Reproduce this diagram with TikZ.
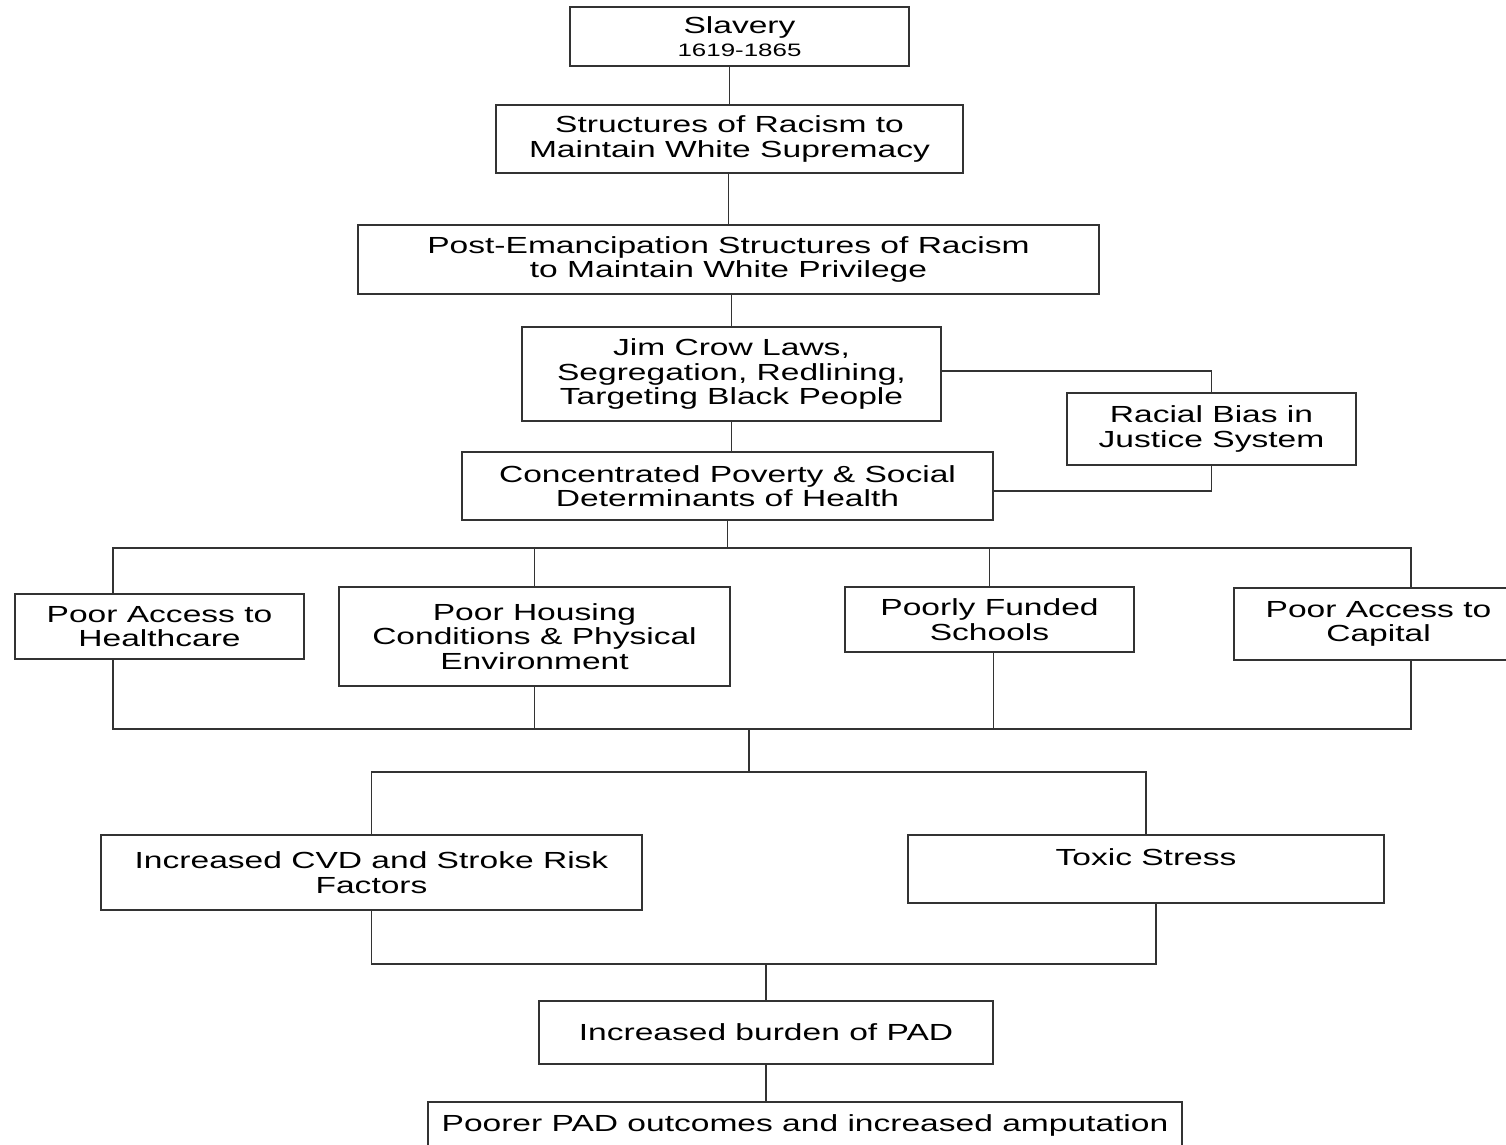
\documentclass[tikz,border=0pt]{standalone}
\usepackage{fontspec}
\newfontfamily\boxfont[FakeStretch=1.44]{Liberation Sans}
\usepackage{tikz}
\usetikzlibrary{calc}
\usetikzlibrary{positioning}

\tikzset{
	box/.style={draw=black!80,line width=1.8pt,rectangle,align=center,inner sep=0pt,outer sep=0pt,
		font=\boxfont\fontsize{23.3pt}{24.5pt}\selectfont},
	link/.style={draw=black!80,line width=1.8pt},
}

\begin{document}
\begin{tikzpicture}[x=1pt,y=-1pt]
		\fill [white] (0,0) rectangle (1506,1144);
		\useasboundingbox (0,0) rectangle (1506,1144);

		\node [box,minimum width=339pt,minimum height=59pt] (slavery) at (739.5,36.5) {Slavery\\[-2pt]{\fontsize{18pt}{20pt}\selectfont 1619-1865}};
		\node [box,minimum width=467pt,minimum height=68pt,below=39pt of slavery,xshift=-10pt] (racism) {Structures of Racism to\\Maintain White Supremacy};
		\node [box,minimum width=741pt,minimum height=69pt,below=52pt of racism,xshift=-1pt] (emancipation) {Post-Emancipation Structures of Racism\\to Maintain White Privilege};
		\node [box,minimum width=419pt,minimum height=94pt,below=33pt of emancipation,xshift=3pt] (jimcrow) {Jim Crow Laws,\\Segregation, Redlining,\\Targeting Black People};
		\node [box,minimum width=289pt,minimum height=72pt,right=126pt of jimcrow,yshift=-55pt] (justice) {Racial Bias in\\Justice System};
		\node [box,minimum width=531pt,minimum height=68pt,below=31pt of jimcrow,xshift=-4pt] (poverty) {Concentrated Poverty \& Social\\Determinants of Health};

		\node [box,minimum width=391pt,minimum height=99pt,below=67pt of poverty,xshift=-193pt] (housing) {Poor Housing\\Conditions \& Physical\\Environment};
		\node [box,minimum width=289pt,minimum height=65pt,left=35pt of housing,yshift=10pt] (healthcare) {Poor Access to\\Healthcare};
		\node [box,minimum width=289pt,minimum height=65pt,right=115pt of housing,yshift=17pt] (schools) {Poorly Funded\\Schools};
		\node [box,minimum width=289pt,minimum height=72pt,right=100pt of schools,yshift=-4.5pt] (capital) {Poor Access to\\Capital};

		\node [box,minimum width=541pt,minimum height=75pt,below=149pt of housing,xshift=-163pt] (cvd) {Increased CVD and Stroke Risk\\Factors};
		\node [box,minimum width=476pt,minimum height=68pt,right=266pt of cvd,yshift=3.5pt] (toxic) {Toxic Stress\\~};
		\node [box,minimum width=454pt,minimum height=63pt,below=91pt of cvd,xshift=394.5pt] (pad) {Increased burden of PAD};
		\node [box,minimum width=754pt,minimum height=46pt,below=38pt of pad,xshift=39pt] (outcome) {Poorer PAD outcomes and increased amputation};

		\coordinate (busL) at (113,548);
		\coordinate (busR) at (1411,548);
		\coordinate (joinL) at (113,729);
		\coordinate (joinR) at (1411,729);
		\coordinate (merge) at (749,729);
		\coordinate (branch) at (749,772);
		\coordinate (gather) at ($(pad.north)+(0,-37)$);

		\draw [link] (racism.north) -- (racism.north |- slavery.south);
		\draw [link] (emancipation.north) -- (emancipation.north |- racism.south);
		\draw [link] (jimcrow.north) -- (jimcrow.north |- emancipation.south);
		\draw [link] (jimcrow.south) -- (jimcrow.south |- poverty.north);
		\draw [link] ([yshift=3pt]jimcrow.east) -| (justice.north);
		\draw [link] (justice.south) |- ([yshift=-5pt]poverty.east);

		\draw [link] (poverty.south) -- (poverty.south |- busL);
		\draw [link] (busL |- healthcare.north) -- (busL) -- (busR) -- (busR |- capital.north);
		\draw [link] (housing.north) -- (housing.north |- busL);
		\draw [link] (schools.north) -- (schools.north |- busL);

		\draw [link] (joinL |- healthcare.south) -- (joinL) -- (joinR) -- (joinR |- capital.south);
		\draw [link] (housing.south) -- (housing.south |- joinL);
		\draw [link] ([xshift=4pt]schools.south) -- ([xshift=4pt]schools.south |- joinL);

		\draw [link] (merge) -- (branch);
		\draw [link] (cvd.north) |- (branch) -| (toxic.north);
		\draw [link] (cvd.south) |- (gather);
		\draw [link] ([xshift=10pt]toxic.south) |- (gather);
		\draw [link] (gather) -- (pad.north);
		\draw [link] (pad.south) -- (pad.south |- outcome.north);
	\end{tikzpicture}
\end{document}
